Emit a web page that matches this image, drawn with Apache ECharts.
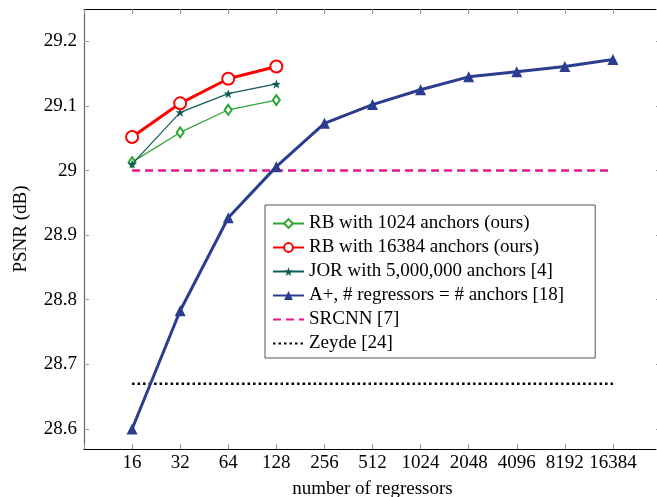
<!DOCTYPE html>
<html>
<head>
<meta charset="utf-8">
<script src="https://cdn.jsdelivr.net/npm/echarts@6/dist/echarts.min.js"></script>
<style>
html,body{margin:0;padding:0;background:#fff;}
#chart{width:657px;height:497px;}
</style>
</head>
<body>
<div id="chart"></div>
<script>
var regressors = [16, 32, 64, 128, 256, 512, 1024, 2048, 4096, 8192, 16384];
var rbRegressors = [16, 32, 64, 128];
var rb1024 = [29.013, 29.059, 29.094, 29.109];
var rb16384 = [29.052, 29.104, 29.142, 29.161];
var jor = [29.010, 29.090, 29.119, 29.134];
var aplus = [28.600, 28.783, 28.927, 29.006, 29.073, 29.102, 29.125, 29.145, 29.153, 29.161, 29.172];
var srcnnValue = 29.0;
var zeydeValue = 28.67;
var seriesNames = ['RB with 1024 anchors (ours)', 'RB with 16384 anchors (ours)', 'JOR with 5,000,000 anchors [4]', 'A+, # regressors = # anchors [18]', 'SRCNN [7]', 'Zeyde [24]'];
var xName = 'number of regressors';
var yName = 'PSNR (dB)';

function pairs(xs, ys) { return xs.map(function (x, i) { return [x, ys[i]]; }); }
function flat(xs, v) { return xs.map(function (x) { return [x, v]; }); }

var FONT = '"Liberation Serif", "DejaVu Serif", serif';
var FS = 19;
var star = 'path://M0,-10 L2.35,-3.24 9.51,-3.09 3.8,1.24 5.88,8.09 0,4 -5.88,8.09 -3.8,1.24 -9.51,-3.09 -2.35,-3.24Z';

var chart = echarts.init(document.getElementById('chart'), null, {renderer: 'canvas'});

function xAxisDef(pos, showLabel) {
  return {
    type: 'log', logBase: 2, min: 8, max: 32768, interval: 1, position: pos,
    name: showLabel ? xName : '', nameLocation: 'middle', nameGap: 31,
    nameTextStyle: {fontFamily: FONT, fontSize: FS, color: '#000'},
    axisLine: {show: true, lineStyle: {color: '#000', width: 1.2}},
    axisTick: {show: true, inside: true, length: 5, lineStyle: {color: '#999', width: 1}},
    axisLabel: {show: showLabel, fontFamily: FONT, fontSize: FS, color: '#000', margin: 5,
      formatter: function (v) { var r = Math.round(v); return (r === 8 || r === 32768) ? '' : String(r); }},
    splitLine: {show: false}
  };
}
function yAxisDef(pos, showLabel) {
  return {
    type: 'value', min: 28.569, max: 29.25, splitNumber: 7, position: pos,
    name: showLabel ? yName : '', nameLocation: 'middle', nameGap: 53,
    nameTextStyle: {fontFamily: FONT, fontSize: FS, color: '#000'},
    axisLine: {show: true, lineStyle: {color: showLabel ? '#666' : '#000', width: 1.2}},
    axisTick: {show: true, inside: true, length: 5, lineStyle: {color: '#999', width: 1}},
    axisLabel: {show: showLabel, fontFamily: FONT, fontSize: FS, color: '#000', margin: 7,
      showMinLabel: false, showMaxLabel: false,
      formatter: function (v) { return String(Number(v.toFixed(2))); }},
    splitLine: {show: false}
  };
}

chart.setOption({
  animation: false,
  backgroundColor: '#fff',
  grid: {left: 84, right: -4, top: 9, bottom: 48, outerBoundsMode: 'none', containLabel: false},
  xAxis: [xAxisDef('bottom', true), xAxisDef('top', false)],
  yAxis: [yAxisDef('left', true), yAxisDef('right', false)],
  legend: {
    orient: 'vertical', left: 265, top: 205,
    itemWidth: 31, itemHeight: 11, itemGap: 5,
    padding: [9, 31, 5, 7],
    backgroundColor: '#fff', borderColor: '#555', borderWidth: 1, borderRadius: 0,
    textStyle: {fontFamily: FONT, fontSize: FS, color: '#000'},
    data: seriesNames
  },
  series: [
    {name: seriesNames[4], type: 'line', data: flat(regressors, srcnnValue), symbol: 'circle', showSymbol: false,
     lineStyle: {color: '#e8168c', width: 2.5, type: [8, 5]}, itemStyle: {color: 'rgba(0,0,0,0)'}, z: 2},
    {name: seriesNames[5], type: 'line', data: flat(regressors, zeydeValue), symbol: 'circle', showSymbol: false,
     lineStyle: {color: '#000', width: 2.5, type: [2.5, 3]}, itemStyle: {color: 'rgba(0,0,0,0)'}, z: 2},
    {name: seriesNames[3], type: 'line', data: pairs(regressors, aplus), symbol: 'triangle', symbolSize: 11,
     lineStyle: {color: '#2a3d8f', width: 3}, itemStyle: {color: '#2a3d8f', borderWidth: 0}, z: 3},
    {name: seriesNames[0], type: 'line', data: pairs(rbRegressors, rb1024), symbol: 'emptyDiamond', symbolSize: [7, 10],
     lineStyle: {color: '#2ea52e', width: 1.2}, itemStyle: {color: '#2ea52e', borderWidth: 1.2}, z: 4},
    {name: seriesNames[2], type: 'line', data: pairs(rbRegressors, jor), symbol: star, symbolSize: 9,
     lineStyle: {color: '#0d5c55', width: 1.2}, itemStyle: {color: '#0d5c55'}, z: 5},
    {name: seriesNames[1], type: 'line', data: pairs(rbRegressors, rb16384), symbol: 'emptyCircle', symbolSize: 12,
     lineStyle: {color: '#ff0000', width: 3}, itemStyle: {color: '#ff0000', borderWidth: 3}, z: 6}
  ]
});
</script>
</body>
</html>
